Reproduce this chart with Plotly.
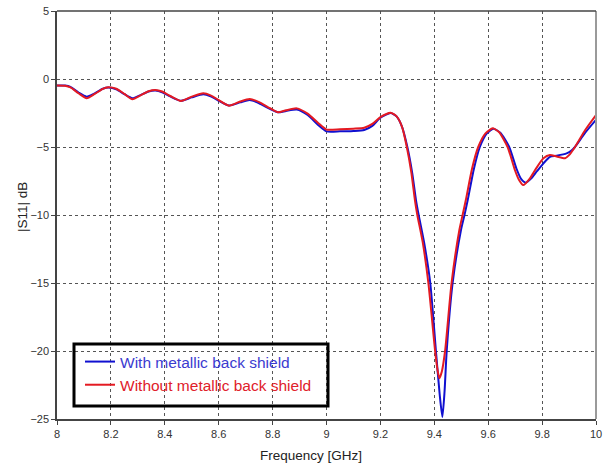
import plotly.graph_objects as go

# Frequency [GHz] / |S11| [dB]
freq_with = [8.00, 8.03, 8.05, 8.08, 8.11, 8.14, 8.17, 8.19, 8.22, 8.25, 8.28, 8.31, 8.34, 8.365,
             8.39, 8.42, 8.46, 8.50, 8.543, 8.57, 8.60, 8.638, 8.68, 8.715, 8.75, 8.79, 8.82, 8.85,
             8.89, 8.93, 8.97, 9.00, 9.05, 9.10, 9.14, 9.17, 9.20, 9.238, 9.26, 9.28, 9.30, 9.318,
             9.332, 9.342, 9.362, 9.385, 9.406, 9.42, 9.43, 9.438, 9.446, 9.468, 9.499, 9.512,
             9.524, 9.547, 9.569, 9.595, 9.619, 9.645, 9.678, 9.705, 9.722, 9.739, 9.76, 9.78, 9.805,
             9.829, 9.854, 9.891, 9.91, 9.922, 9.96, 10.00]
s11_with = [-0.48, -0.48, -0.58, -1.00, -1.30, -1.05, -0.72, -0.63, -0.75, -1.12, -1.42, -1.18, -0.92, -0.85,
            -0.97, -1.28, -1.60, -1.35, -1.12, -1.27, -1.60, -1.95, -1.72, -1.55, -1.78, -2.20, -2.45, -2.35,
            -2.25, -2.65, -3.40, -3.85, -3.85, -3.82, -3.75, -3.45, -2.85, -2.50, -2.75, -3.50, -5.00, -6.90,
            -8.90, -10.00, -12.00, -15.00, -20.00, -23.2, -24.85, -23.0, -20.00, -15.00, -11.10, -10.00,
            -8.90, -6.60, -5.00, -4.00, -3.66, -3.95, -5.00, -6.60, -7.35, -7.62, -7.30, -6.80, -6.20,
            -5.72, -5.64, -5.47, -5.25, -5.00, -3.95, -3.00]

freq_without = [8.00, 8.03, 8.05, 8.08, 8.11, 8.14, 8.17, 8.19, 8.22, 8.25, 8.28, 8.31, 8.34, 8.365,
                8.39, 8.42, 8.46, 8.50, 8.543, 8.57, 8.60, 8.638, 8.68, 8.715, 8.75, 8.79, 8.82, 8.85,
                8.89, 8.93, 8.97, 9.00, 9.05, 9.10, 9.14, 9.17, 9.20, 9.238, 9.26, 9.28, 9.298, 9.315,
                9.328, 9.337, 9.357, 9.378, 9.403, 9.412, 9.419, 9.428, 9.44, 9.464, 9.493, 9.505,
                9.517, 9.54, 9.563, 9.59, 9.617, 9.64, 9.672, 9.699, 9.715, 9.730, 9.755, 9.774, 9.805,
                9.829, 9.854, 9.885, 9.90, 9.922, 9.96, 10.00]
s11_without = [-0.48, -0.50, -0.62, -1.05, -1.42, -1.10, -0.72, -0.61, -0.72, -1.10, -1.49, -1.20, -0.90, -0.81,
               -0.92, -1.25, -1.62, -1.30, -1.05, -1.20, -1.55, -1.96, -1.65, -1.47, -1.70, -2.15, -2.45, -2.30,
               -2.16, -2.55, -3.25, -3.72, -3.70, -3.65, -3.58, -3.30, -2.80, -2.48, -2.75, -3.50, -5.00, -6.90,
               -8.90, -10.00, -12.00, -15.00, -20.00, -21.4, -22.00, -21.5, -20.00, -15.00, -11.10, -10.00,
               -8.90, -6.60, -5.00, -4.00, -3.63, -3.90, -5.00, -6.69, -7.45, -7.80, -7.30, -6.69, -5.83,
               -5.59, -5.70, -5.83, -5.60, -5.00, -3.75, -2.65]

x_ticks = [8, 8.2, 8.4, 8.6, 8.8, 9, 9.2, 9.4, 9.6, 9.8, 10]
x_tick_labels = ["8", "8.2", "8.4", "8.6", "8.8", "9", "9.2", "9.4", "9.6", "9.8", "10"]
y_ticks = [5, 0, -5, -10, -15, -20, -25]

name_with = "With metallic back shield"
name_without = "Without metallic back shield"

fig = go.Figure()
fig.add_trace(go.Scatter(
    x=freq_with, y=s11_with, mode="lines",
    name='<span style="color:#3b3bd0">' + name_with + '</span>',
    line=dict(color="#1010d0", width=2, shape="spline", smoothing=0.6),
))
fig.add_trace(go.Scatter(
    x=freq_without, y=s11_without, mode="lines",
    name='<span style="color:#e0202a">' + name_without + '</span>',
    line=dict(color="#e41a22", width=2, shape="spline", smoothing=0.6),
))

PW, PH, PL, PB = 539.0, 408.0, 57.0, 419.0  # plot-area geometry in page pixels

# white area behind the legend (hides the grid around it)
fig.add_shape(type="rect", xref="paper", yref="paper",
              x0=0.018, x1=0.52, y0=0.01, y1=0.2,
              fillcolor="white", line=dict(width=0), layer="between")
# legend frame
fig.add_shape(type="rect", xref="paper", yref="paper",
              x0=(74 - PL) / PW, x1=(328 - PL) / PW, y0=(PB - 406) / PH, y1=(PB - 344) / PH,
              fillcolor="rgba(0,0,0,0)", line=dict(color="black", width=3), layer="above")
# light right border
fig.add_shape(type="line", xref="paper", yref="paper", x0=1, x1=1, y0=0, y1=1,
              line=dict(color="#9a9a9a", width=2), layer="above")
# top border line
fig.add_shape(type="line", xref="paper", yref="paper", x0=0, x1=1, y0=1, y1=1,
              line=dict(color="#444444", width=1.5), layer="above")

axis_font = dict(family="Liberation Sans, Arial, sans-serif", size=11, color="#333333")

fig.update_layout(
    width=608, height=465,
    margin=dict(l=57, r=12, t=11, b=46),
    paper_bgcolor="white", plot_bgcolor="white",
    showlegend=True,
    legend=dict(
        x=(80 - PL) / PW, y=(PB - 345) / PH, xanchor="left", yanchor="top",
        bgcolor="rgba(0,0,0,0)", borderwidth=0,
        font=dict(family="Liberation Sans, Arial, sans-serif", size=15.5),
        tracegroupgap=0, itemwidth=30,
    ),
    xaxis=dict(
        range=[8, 10], tickvals=x_ticks, ticktext=x_tick_labels, automargin=False,
        showgrid=True, gridcolor="#555555", griddash="dot", gridwidth=1,
        showline=True, linecolor="#444444", linewidth=1.5, mirror=False,
        ticks="outside", ticklen=4, tickcolor="#444444",
        tickfont=axis_font, zeroline=False,
    ),
    yaxis=dict(
        range=[-25, 5], tickvals=y_ticks, automargin=False,
        showgrid=True, gridcolor="#555555", griddash="dot", gridwidth=1,
        showline=True, linecolor="#444444", linewidth=1.5, mirror=False,
        ticks="outside", ticklen=4, tickcolor="#444444",
        tickfont=axis_font, zeroline=False,
    ),
    annotations=[
        dict(text="Frequency [GHz]", xref="paper", yref="paper", x=(310.5 - PL) / PW, y=0,
             yshift=-36, xanchor="center", yanchor="middle", showarrow=False,
             font=dict(family="Liberation Sans, Arial, sans-serif", size=13.5, color="#222222")),
        dict(text="|S11| dB", xref="paper", yref="paper", x=0, y=(PB - 207) / PH,
             xshift=-34, xanchor="center", yanchor="middle", showarrow=False, textangle=-90,
             font=dict(family="Liberation Sans, Arial, sans-serif", size=13.5, color="#222222")),
    ],
)

# remove the default 8px page margin so the 608x465 figure fills the window exactly
fig.write_html("out.html", config={"displayModeBar": False},
               post_script="document.body.style.margin='0px';")
